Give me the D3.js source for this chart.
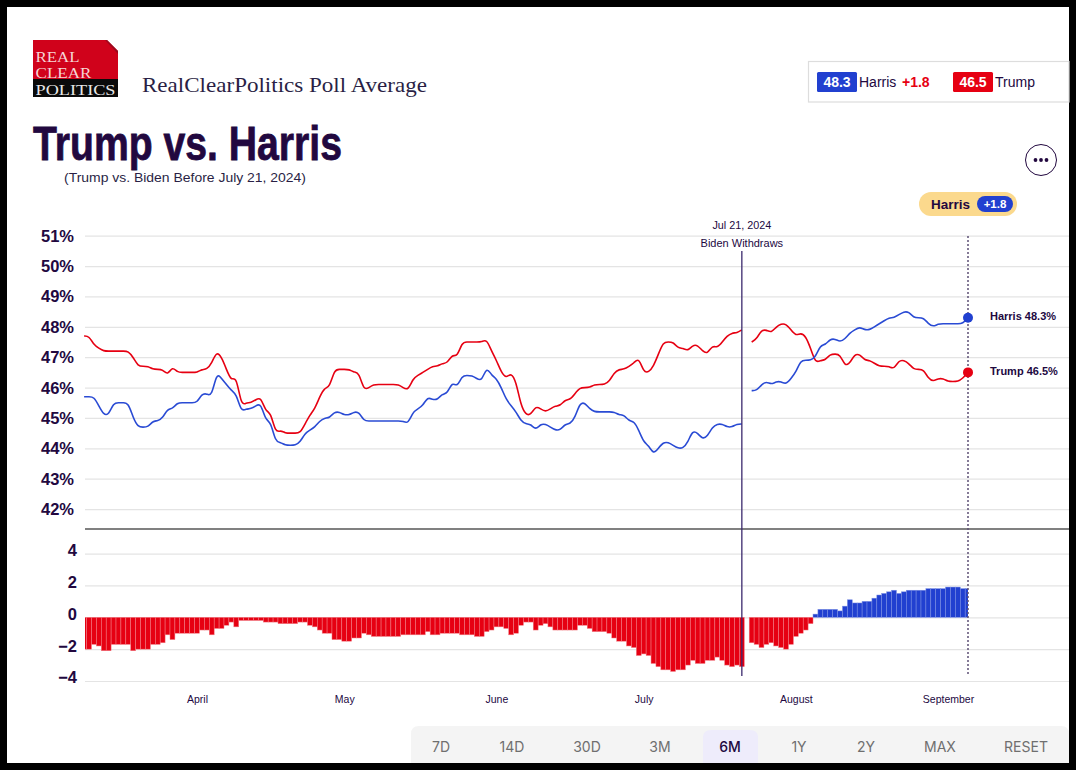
<!DOCTYPE html>
<html>
<head>
<meta charset="UTF-8">
<title>Trump vs. Harris</title>
<script src="https://cdn.jsdelivr.net/npm/d3@7"></script>
<style>
  html, body { margin: 0; padding: 0; background: #000; }
  svg { display: block; }
  text { font-family: "Liberation Sans", Arial, sans-serif; }
</style>
</head>
<body>
<svg id="chart" width="1076" height="770"></svg>
<script>
// daily values, Mar 9 to Sep 5 2024, Jul 22 has no reading
const trump = [
  47.7,47.7,47.4,47.3,47.2,47.2,47.2,47.2,47.2,47.2,47.0,46.7,46.7,46.7,46.6,46.6,46.6,46.4,46.7,46.5,46.5,46.5,46.5,
  46.5,46.6,46.6,46.8,47.2,47.0,46.6,46.2,46.4,45.4,45.5,45.5,45.6,45.7,45.2,45.2,44.5,44.6,44.5,44.5,44.5,44.5,44.8,45.1,45.3,45.7,46.0,46.0,46.6,46.6,
  46.6,46.6,46.5,46.5,45.9,46.0,46.1,46.1,46.1,46.1,46.1,46.1,46.0,45.9,46.3,46.4,46.5,46.6,46.7,46.7,46.8,46.8,47.1,47.0,47.5,47.5,47.5,47.5,47.5,47.6,47.2,
  46.9,46.5,46.3,46.5,46.2,45.4,45.1,45.1,45.4,45.3,45.2,45.3,45.4,45.4,45.6,45.6,45.8,46.0,46.0,46.0,46.1,46.1,46.1,46.2,46.5,46.6,46.6,46.7,46.8,47.0,
  46.5,46.5,46.7,47.1,47.5,47.5,47.5,47.3,47.3,47.2,47.4,47.4,47.2,47.1,47.4,47.3,47.5,47.7,47.8,47.8,47.9,null,47.5,47.6,47.9,47.9,47.8,48.0,48.1,48.1,47.9,
  47.7,47.8,47.7,47.3,46.8,46.9,46.9,47.1,47.1,47.1,46.7,46.8,47.1,47.1,46.9,46.9,46.8,46.7,46.7,46.7,46.6,46.9,46.9,46.8,46.6,46.6,46.6,46.3,46.2,46.3,46.3,
  46.2,46.2,46.2,46.3,46.5
];
const harris = [
  45.7,45.7,45.7,45.4,45.1,45.1,45.5,45.5,45.5,45.5,45.0,44.7,44.7,44.7,44.9,44.9,45.0,45.3,45.3,45.5,45.5,45.5,45.5,
  45.5,45.8,45.8,45.7,46.5,46.3,46.1,45.9,45.8,45.2,45.3,45.3,45.4,45.5,44.9,44.9,44.2,44.2,44.1,44.1,44.1,44.2,44.5,44.6,44.7,44.9,45.0,45.0,45.2,45.2,
  45.1,45.1,45.2,45.2,44.9,44.9,44.9,44.9,44.9,44.9,44.9,44.9,44.9,44.8,45.2,45.3,45.4,45.7,45.6,45.6,45.8,45.8,46.2,46.0,46.4,46.4,46.4,46.3,46.2,46.7,46.4,
  46.3,46.0,45.6,45.4,45.2,44.9,44.8,44.8,44.6,44.8,44.8,44.7,44.6,44.6,44.8,44.8,45.0,45.5,45.5,45.3,45.2,45.2,45.2,45.2,45.2,45.1,45.1,44.9,44.9,44.6,
  44.2,44.1,43.8,44.0,44.2,44.2,44.1,44.0,44.0,44.2,44.6,44.5,44.3,44.4,44.7,44.8,44.8,44.7,44.7,44.8,44.8,null,45.9,45.9,46.1,46.2,46.1,46.2,46.2,46.1,46.3,
  46.5,46.9,46.9,46.9,47.0,47.4,47.4,47.6,47.6,47.5,47.6,47.8,47.9,48.0,47.9,47.9,48.0,48.1,48.2,48.3,48.3,48.4,48.5,48.5,48.3,48.3,48.3,48.1,48.0,48.1,48.1,
  48.1,48.1,48.1,48.1,48.3
];
const spread = [
  -2.0,-2.0,-1.7,-1.8,-2.1,-2.1,-1.7,-1.7,-1.7,-1.7,-2.1,-2.0,-2.0,-2.0,-1.7,-1.7,-1.6,-1.1,-1.4,-1.0,-1.0,-1.0,-1.0,
  -1.0,-0.8,-0.8,-1.1,-0.7,-0.7,-0.5,-0.3,-0.6,-0.2,-0.2,-0.2,-0.2,-0.2,-0.3,-0.3,-0.3,-0.4,-0.4,-0.4,-0.4,-0.3,-0.3,-0.5,-0.6,-0.8,-1.0,-1.0,-1.4,-1.4,
  -1.5,-1.5,-1.3,-1.3,-1.0,-1.1,-1.2,-1.2,-1.2,-1.2,-1.2,-1.2,-1.1,-1.1,-1.1,-1.1,-1.1,-0.9,-1.1,-1.1,-1.0,-1.0,-1.0,-1.0,-1.1,-1.1,-1.1,-1.2,-1.2,-0.9,-0.8,
  -0.6,-0.6,-0.7,-1.1,-1.0,-0.5,-0.3,-0.3,-0.8,-0.5,-0.4,-0.6,-0.8,-0.8,-0.8,-0.8,-0.8,-0.5,-0.5,-0.7,-0.9,-0.9,-0.9,-1.0,-1.3,-1.5,-1.5,-1.8,-1.9,-2.4,
  -2.3,-2.4,-2.9,-3.1,-3.3,-3.3,-3.4,-3.3,-3.3,-3.0,-2.7,-2.9,-2.9,-2.7,-2.7,-2.5,-2.7,-3.0,-3.1,-3.0,-3.1,null,-1.6,-1.7,-1.9,-1.7,-1.6,-1.8,-1.9,-2.0,-1.7,
  -1.2,-1.0,-0.8,-0.4,0.2,0.5,0.5,0.5,0.5,0.4,0.7,1.1,0.9,0.9,1.0,1.0,1.2,1.4,1.5,1.6,1.7,1.5,1.6,1.7,1.7,1.7,1.7,1.8,1.8,1.8,1.8,
  1.9,1.9,1.9,1.8,1.8
];
const days = d3.timeDay.range(new Date(2024, 2, 9), new Date(2024, 8, 6));
const pctTicks = [51, 50, 49, 48, 47, 46, 45, 44, 43, 42];
const spreadTicks = [4, 2, 0, -2, -4];
const monthTicks = [new Date(2024, 3, 1), new Date(2024, 4, 1), new Date(2024, 5, 1), new Date(2024, 6, 1), new Date(2024, 7, 1), new Date(2024, 8, 1)];
const rangeButtons = ["7D", "14D", "30D", "3M", "6M", "1Y", "2Y", "MAX", "RESET"];
const buttonCentres = [441, 512, 587, 660, 730, 799, 866, 940, 1026];

const ink = "#22083f", red = "#e60012", blue = "#2140d0";
const left = 85, right = 1069, lastX = 968;

const svg = d3.select("#chart");

// page frame
svg.append("rect").attr("x", 7).attr("y", 7).attr("width", 1062).attr("height", 756).attr("fill", "#fff");

// logo
const logo = svg.append("g");
logo.append("path").attr("d", "M33 40H107L118 51V79H33Z").attr("fill", "#d0021b");
logo.append("path").attr("d", "M105 40H107L118 51V54Z").attr("fill", "#9c0a1e");
logo.append("rect").attr("x", 33).attr("y", 79).attr("width", 85).attr("height", 18).attr("fill", "#0a0a0a");
[["REAL", 61.5, 44, "#f6d5d5"], ["CLEAR", 78, 56, "#f6d5d5"], ["POLITICS", 95, 80, "#e8e8e8"]].forEach(function (t) {
  logo.append("text").text(t[0]).attr("x", 35.5).attr("y", t[1])
    .attr("textLength", t[2]).attr("lengthAdjust", "spacingAndGlyphs")
    .attr("font-size", 14.5).style("font-family", "'Liberation Serif', serif").attr("fill", t[3]);
});

svg.append("text").text("RealClearPolitics Poll Average").attr("x", 142).attr("y", 92)
  .attr("textLength", 285).attr("lengthAdjust", "spacingAndGlyphs")
  .attr("font-size", 22).style("font-family", "'Liberation Serif', serif").attr("fill", "#2a1f45");

svg.append("text").text("Trump vs. Harris").attr("x", 33).attr("y", 160)
  .attr("textLength", 309).attr("lengthAdjust", "spacingAndGlyphs")
  .attr("font-size", 48).attr("font-weight", 700).style("font-family", "'Liberation Sans Narrow', 'Liberation Sans', sans-serif")
  .attr("fill", ink).attr("stroke", ink).attr("stroke-width", 0.8);

svg.append("text").text("(Trump vs. Biden Before July 21, 2024)").attr("x", 64).attr("y", 182)
  .attr("textLength", 242).attr("lengthAdjust", "spacingAndGlyphs")
  .attr("font-size", 13.5).attr("fill", "#2a1f45");

// legend box
svg.append("rect").attr("x", 808.5).attr("y", 61.5).attr("width", 260.5).attr("height", 40.5)
  .attr("fill", "#fff").attr("stroke", "#ddd").attr("stroke-width", 1.2);
[[817, blue, "48.3", "Harris", 859], [953, red, "46.5", "Trump", 995]].forEach(function (k) {
  svg.append("rect").attr("x", k[0]).attr("y", 72).attr("width", 40).attr("height", 20).attr("rx", 1.5).attr("fill", k[1]);
  svg.append("text").text(k[2]).attr("x", k[0] + 20).attr("y", 87).attr("text-anchor", "middle")
    .attr("font-size", 14).attr("font-weight", 700).attr("fill", "#fff");
  svg.append("text").text(k[3]).attr("x", k[4]).attr("y", 87).attr("font-size", 14).attr("fill", ink);
});
svg.append("text").text("+1.8").attr("x", 902).attr("y", 87).attr("font-size", 14).attr("font-weight", 700).attr("fill", red);

// more button
svg.append("circle").attr("cx", 1041).attr("cy", 160).attr("r", 15.5).attr("fill", "#fff").attr("stroke", ink).attr("stroke-width", 1);
[-5.5, 0, 5.5].forEach(function (dx) {
  svg.append("circle").attr("cx", 1041 + dx).attr("cy", 160).attr("r", 1.9).attr("fill", ink);
});

// leader pill
svg.append("rect").attr("x", 919).attr("y", 192).attr("width", 98).attr("height", 24).attr("rx", 12).attr("fill", "#fbd98d");
svg.append("text").text("Harris").attr("x", 931).attr("y", 209).attr("font-size", 13.5).attr("font-weight", 700).attr("fill", ink);
svg.append("rect").attr("x", 977).attr("y", 196).attr("width", 36).attr("height", 16).attr("rx", 8).attr("fill", blue);
svg.append("text").text("+1.8").attr("x", 995).attr("y", 208).attr("text-anchor", "middle")
  .attr("font-size", 11.5).attr("font-weight", 700).attr("fill", "#fff");

// scales
const x = d3.scaleTime().domain([new Date(2024, 3, 1), new Date(2024, 8, 1)]).range([197, 948]);
const yTop = d3.scaleLinear().domain([42, 51]).range([509.1, 235.7]);
const yBottom = d3.scaleLinear().domain([-4, 4]).range([681, 553.6]);

// axes with the grid as tick lines
const topAxis = svg.append("g").attr("transform", "translate(" + left + ",0)")
  .call(d3.axisLeft(yTop).tickValues(pctTicks).tickFormat(function (d) { return d + "%"; }).tickSize(-(right - left)).tickPadding(11));
const bottomAxis = svg.append("g").attr("transform", "translate(" + left + ",0)")
  .call(d3.axisLeft(yBottom).tickValues(spreadTicks).tickSize(-(right - left)).tickPadding(8).tickFormat(d3.format("d")));
[topAxis, bottomAxis].forEach(function (a) {
  a.select(".domain").remove();
  a.selectAll("line").attr("stroke", "#e4e4e4").attr("stroke-width", 1.2);
  a.selectAll("text").attr("font-size", 16.5).attr("font-weight", 700).attr("fill", ink)
    .style("font-family", "'Liberation Sans', sans-serif");
});
topAxis.selectAll("text").attr("dy", "0.33em");
bottomAxis.selectAll("text").attr("dy", "0.12em");

const monthAxis = svg.append("g").attr("transform", "translate(0,695.5)")
  .call(d3.axisBottom(x).tickValues(monthTicks).tickFormat(d3.timeFormat("%B")).tickSize(0).tickPadding(0));
monthAxis.select(".domain").remove();
monthAxis.selectAll("text").attr("font-size", 10.5).attr("fill", ink).style("font-family", "'Liberation Sans', sans-serif");

// pane divider
svg.append("line").attr("x1", left).attr("x2", right).attr("y1", 529).attr("y2", 529).attr("stroke", "#808080").attr("stroke-width", 2);

svg.append("clipPath").attr("id", "plot-clip").append("rect")
  .attr("x", left).attr("y", 200).attr("width", lastX - left).attr("height", 500);

// spread bars
const barW = x(new Date(2024, 3, 2)) - x(new Date(2024, 3, 1));
svg.append("g").attr("clip-path", "url(#plot-clip)")
  .selectAll("rect")
  .data(days.map(function (d, i) { return { date: d, value: spread[i] }; }).filter(function (d) { return d.value !== null; }))
  .enter().append("rect")
  .attr("x", function (d) { return x(d.date) - barW / 2; })
  .attr("y", function (d) { return yBottom(Math.max(0, d.value)); })
  .attr("width", barW)
  .attr("height", function (d) { return Math.abs(yBottom(d.value) - yBottom(0)); })
  .attr("fill", function (d) { return d.value < 0 ? red : blue; })
  .attr("stroke", function (d) { return d.value < 0 ? "#f27f88" : "#7d90e4"; })
  .attr("stroke-width", 0.5);

// poll lines
const line = d3.line()
  .defined(function (d) { return d !== null; })
  .x(function (d, i) { return x(days[i]); })
  .y(function (d) { return yTop(d); })
  .curve(d3.curveBasis);

[[trump, red], [harris, "#2a4bd4"]].forEach(function (s) {
  svg.append("path").datum(s[0]).attr("d", line).attr("fill", "none").attr("stroke", s[1]).attr("stroke-width", 1.6);
});

// Biden withdrawal marker
const withdrawX = x(new Date(2024, 6, 21));
svg.append("line").attr("x1", withdrawX).attr("x2", withdrawX).attr("y1", 251).attr("y2", 676)
  .attr("stroke", "#3b2a6e").attr("stroke-width", 1.3);
[["Jul 21, 2024", 229, 10.8], ["Biden Withdraws", 247, 11]].forEach(function (t) {
  svg.append("text").text(t[0]).attr("x", withdrawX).attr("y", t[1]).attr("text-anchor", "middle")
    .attr("font-size", t[2]).attr("fill", ink);
});

// latest value marker
svg.append("line").attr("x1", lastX).attr("x2", lastX).attr("y1", 236).attr("y2", 674)
  .attr("stroke", "#5d5075").attr("stroke-width", 1.5).attr("stroke-dasharray", "2 2");
[[harris, blue, "Harris 48.3%", 320], [trump, red, "Trump 46.5%", 375]].forEach(function (s) {
  svg.append("circle").attr("cx", lastX).attr("cy", yTop(s[0][s[0].length - 1])).attr("r", 5).attr("fill", s[1]);
  svg.append("text").text(s[2]).attr("x", 990).attr("y", s[3]).attr("font-size", 11).attr("font-weight", 700).attr("fill", ink);
});

// range buttons
svg.append("path").attr("d", "M411 763V734Q411 726 419 726H1061Q1069 726 1069 734V763Z").attr("fill", "#f4f4f4");
svg.append("path").attr("d", "M703 763V738Q703 730 711 730H750Q758 730 758 738V763Z").attr("fill", "#eeecfb");
rangeButtons.forEach(function (b, i) {
  svg.append("text").text(b).attr("x", buttonCentres[i]).attr("y", 752).attr("text-anchor", "middle")
    .attr("font-size", 14).style("font-family", "Inter, sans-serif")
    .attr("font-weight", b === "6M" ? 500 : 400)
    .attr("fill", b === "6M" ? ink : "#6f6f6f");
});
</script>
</body>
</html>
